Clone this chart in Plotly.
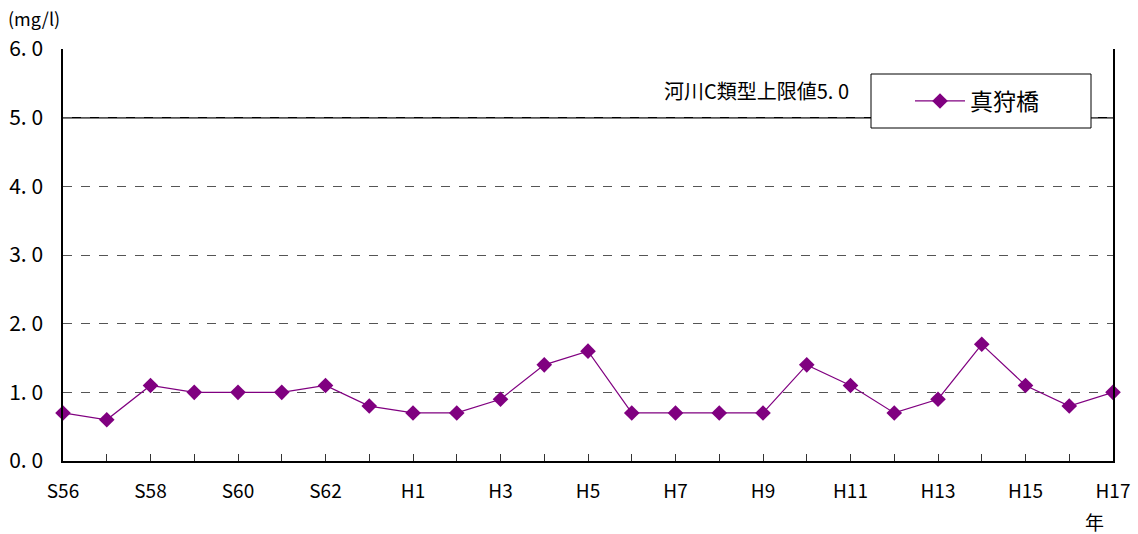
import plotly.graph_objects as go

years = ["S56","S57","S58","S59","S60","S61","S62","S63","H1","H2","H3","H4","H5",
         "H6","H7","H8","H9","H10","H11","H12","H13","H14","H15","H16","H17"]
values = [0.7,0.6,1.1,1.0,1.0,1.0,1.1,0.8,0.7,0.7,0.9,1.4,1.6,
          0.7,0.7,0.7,0.7,1.4,1.1,0.7,0.9,1.7,1.1,0.8,1.0]
series_name = "真狩橋"
limit_value = 5.0
limit_label = "河川C類型上限値5. 0"
y_ticks = [0, 1, 2, 3, 4, 5, 6]
y_ticktext = ["0. 0", "1. 0", "2. 0", "3. 0", "4. 0", "5. 0", "6. 0"]

FONT = "Noto Sans CJK JP"
x_idx = list(range(len(years)))
x_ticktext = [y if i % 2 == 0 else "" for i, y in enumerate(years)]

# plot area in px: x 63..1113, y 49..461
W, H = 1138, 534
L, R, T, B = 63, 25, 49, 73
PW, PH = W - L - R, H - T - B
def px(x):
    return (x - L) / PW
def py(y):
    return (H - B - y) / PH

fig = go.Figure()
fig.add_trace(go.Scatter(
    x=x_idx, y=values, name=series_name, mode="lines+markers",
    line=dict(color="#800080", width=1.2),
    marker=dict(symbol="diamond", size=12, color="#800080"),
    cliponaxis=False,
))

fig.add_shape(type="line", xref="paper", x0=0, x1=1, yref="y", y0=limit_value, y1=limit_value,
              line=dict(color="black", width=1.5), layer="below")
# legend frame
fig.add_shape(type="rect", xref="paper", yref="paper",
              x0=px(871), x1=px(1091), y0=py(128), y1=py(74),
              line=dict(color="black", width=1), fillcolor="white", layer="above")

fig.add_annotation(text=limit_label, xref="paper", x=px(851), xanchor="right",
                   yref="paper", y=py(91), yanchor="middle", showarrow=False,
                   font=dict(family=FONT, size=20, color="black"))
fig.add_annotation(text="(mg/l)", xref="paper", x=px(6), xanchor="left",
                   yref="paper", y=py(18), yanchor="middle", showarrow=False,
                   font=dict(family=FONT, size=18, color="black"))
fig.add_annotation(text="年", xref="paper", x=px(1094), xanchor="center",
                   yref="paper", y=py(521), yanchor="middle", showarrow=False,
                   font=dict(family=FONT, size=19, color="black"))

fig.update_layout(
    width=W, height=H,
    margin=dict(l=L, r=R, t=T, b=B, autoexpand=False),
    paper_bgcolor="white", plot_bgcolor="white",
    font=dict(family=FONT, color="black"),
    showlegend=True,
    legend=dict(x=px(910), y=py(101), xanchor="left", yanchor="middle",
                bgcolor="rgba(0,0,0,0)", borderwidth=0,
                font=dict(family=FONT, size=23), itemwidth=50),
    xaxis=dict(
        range=[0, len(years) - 1], tickmode="array", tickvals=x_idx, ticktext=x_ticktext,
        ticks="inside", ticklen=7, tickcolor="#333", tickangle=0,
        showline=True, linecolor="black", linewidth=1.5, mirror=False,
        showgrid=False, zeroline=False, automargin=False,
        tickfont=dict(family=FONT, size=19), ticklabelstandoff=12,
    ),
    yaxis=dict(
        range=[0, 6], tickmode="array", tickvals=y_ticks, ticktext=y_ticktext,
        ticks="", showline=True, linecolor="black", linewidth=1.5, mirror=True,
        showgrid=True, gridcolor="#555", griddash="dash", gridwidth=1,
        zeroline=False, automargin=False, tickfont=dict(family=FONT, size=21),
        ticklabelstandoff=14,
    ),
)

fig.write_html("out.html", config={"displayModeBar": False},
               post_script="document.body.style.margin='0';document.body.style.overflow='hidden';")
